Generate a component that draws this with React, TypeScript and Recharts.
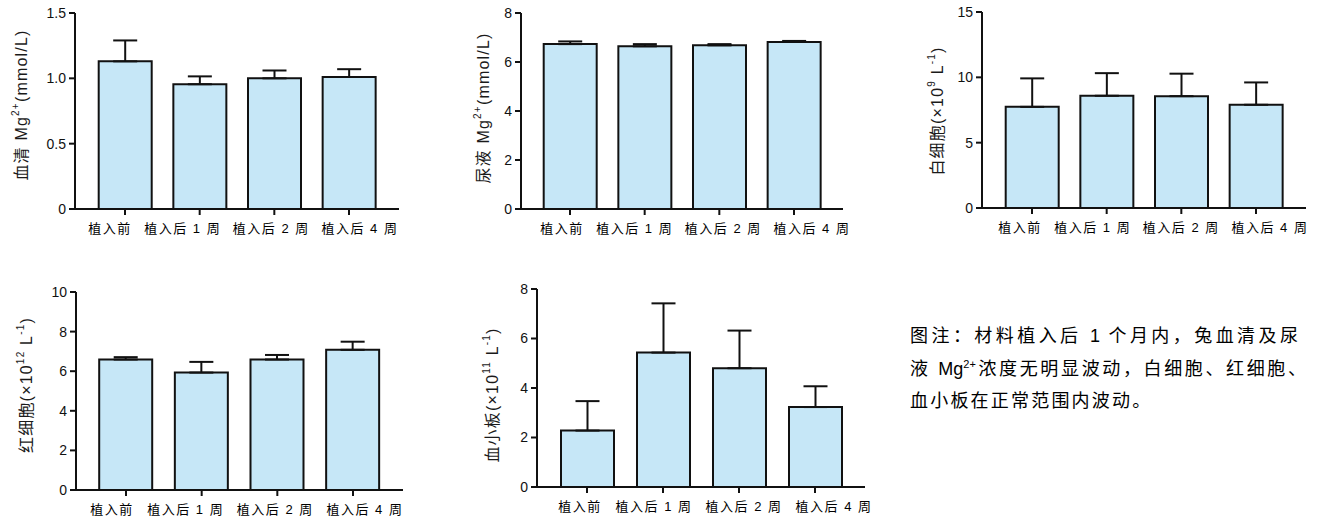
import { Bar, BarChart, ErrorBar, XAxis, YAxis } from "recharts";

const categories = ["植入前", "植入后 1 周", "植入后 2 周", "植入后 4 周"];

// 血清 Mg2+ (mmol/L)
const serumMg = [1.13, 0.955, 1.0, 1.01];
const serumMgErr = [0.16, 0.06, 0.06, 0.06];
const serumTicks = [0, 0.5, 1.0, 1.5];

// 尿液 Mg2+ (mmol/L)
const urineMg = [6.73, 6.64, 6.68, 6.82];
const urineMgErr = [0.11, 0.09, 0.05, 0.04];
const urineTicks = [0, 2, 4, 6, 8];

// 白细胞 (x10^9 /L)
const wbc = [7.74, 8.59, 8.56, 7.9];
const wbcErr = [2.18, 1.73, 1.72, 1.71];
const wbcTicks = [0, 5, 10, 15];

// 红细胞 (x10^12 /L)
const rbc = [6.59, 5.93, 6.59, 7.08];
const rbcErr = [0.12, 0.54, 0.23, 0.41];
const rbcTicks = [0, 2, 4, 6, 8, 10];

// 血小板 (x10^11 /L)
const plt = [2.28, 5.43, 4.8, 3.23];
const pltErr = [1.19, 1.99, 1.52, 0.84];
const pltTicks = [0, 2, 4, 6, 8];

const FILL = "#c6e7f7";
const INK = "#111";
const LATIN = "'Liberation Sans', Arial, 'Noto Sans CJK SC', sans-serif";

// the category labels in the original sit as one run of text, not centred on the ticks
const labelSpread = [0, -2, 12, 26];

type Part = { t: string; sup?: boolean };

const rows = (values: number[], errs: number[]) =>
  categories.map((name, i) => ({ name, value: values[i], err: [0, errs[i]] }));

function AxisTitle({ x, y, parts }: { x: number; y: number; parts: Part[] }) {
  let raised = false;
  return (
    <text
      x={x}
      y={y}
      transform={`rotate(-90 ${x} ${y})`}
      textAnchor="middle"
      dominantBaseline="central"
      fontSize={16}
      letterSpacing={1.2}
      fill="#1a1a1a"
      fontFamily={LATIN}
    >
      {parts.map((p, i) => {
        let dy = 0;
        if (p.sup && !raised) dy = -6;
        if (!p.sup && raised) dy = 6;
        raised = !!p.sup;
        return (
          <tspan key={i} dy={dy} fontSize={p.sup ? 10 : 16}>
            {p.t}
          </tspan>
        );
      })}
    </text>
  );
}

function CategoryTick(props: any) {
  const { x, y, payload, base } = props;
  const idx = payload?.index ?? props.index ?? 0;
  return (
    <text
      x={x + base + labelSpread[idx]}
      y={y}
      dy="0.71em"
      textAnchor="middle"
      fontSize={13}
      letterSpacing={1.5}
      fill="#000"
      fontFamily={LATIN}
    >
      {payload.value}
    </text>
  );
}

interface PanelProps {
  plotLeft: number;
  plotTop: number;
  plotW: number;
  plotH: number;
  pad: number;
  labelBase: number;
  ticks: number[];
  values: number[];
  errs: number[];
  title: Part[];
  titleX: number;
  titleY: number;
  fmt?: (v: number) => string;
}

function Panel(p: PanelProps) {
  const boxLeft = p.plotLeft - 75;
  const boxTop = p.plotTop - 15;
  const width = p.plotW + 95;
  const height = p.plotH + 15 + 42;
  const data = rows(p.values, p.errs);
  return (
    <div style={{ position: "absolute", left: boxLeft, top: boxTop }}>
      <BarChart
        width={width}
        height={height}
        data={data}
        margin={{ top: 15, right: 20, bottom: 0, left: 0 }}
      >
        <XAxis
          dataKey="name"
          padding={{ left: p.pad, right: p.pad }}
          axisLine={{ stroke: INK, strokeWidth: 2 }}
          tickLine={{ stroke: INK, strokeWidth: 2 }}
          tickSize={6}
          tickMargin={9}
          height={42}
          interval={0}
          tick={(tp: any) => <CategoryTick {...tp} base={p.labelBase} />}
        />
        <YAxis
          width={75}
          domain={[p.ticks[0], p.ticks[p.ticks.length - 1]]}
          ticks={p.ticks}
          interval={0}
          allowDataOverflow
          axisLine={{ stroke: INK, strokeWidth: 2 }}
          tickLine={{ stroke: INK, strokeWidth: 2 }}
          tickSize={6}
          tickMargin={3}
          tickFormatter={p.fmt ?? ((v: number) => String(v))}
          tick={{ fill: INK, fontSize: 14, fontFamily: LATIN }}
          label={{
            content: () => (
              <AxisTitle x={p.titleX - boxLeft} y={p.titleY - boxTop} parts={p.title} />
            ),
          }}
        />
        <Bar
          dataKey="value"
          fill={FILL}
          stroke={INK}
          strokeWidth={2}
          barSize={53}
          isAnimationActive={false}
        >
          <ErrorBar
            dataKey="err"
            direction="y"
            width={12}
            stroke={INK}
            strokeWidth={2}
            isAnimationActive={false}
          />
        </Bar>
      </BarChart>
    </div>
  );
}

const oneDecimal = (v: number) => (v === 0 ? "0" : v.toFixed(1));

const justified: React.CSSProperties = {
  textAlign: "justify",
  textAlignLast: "justify",
};

export default function App() {
  return (
    <div
      style={{
        position: "absolute",
        left: 0,
        top: 0,
        width: 1323,
        height: 522,
        background: "#fff",
        overflow: "hidden",
      }}
    >
      <Panel
        plotLeft={75}
        plotTop={13}
        plotW={324}
        plotH={196}
        pad={12.7}
        labelBase={-15}
        ticks={serumTicks}
        values={serumMg}
        errs={serumMgErr}
        fmt={oneDecimal}
        title={[{ t: "血清 Mg" }, { t: "2+", sup: true }, { t: "(mmol/L)" }]}
        titleX={21}
        titleY={105}
      />
      <Panel
        plotLeft={521}
        plotTop={13}
        plotW={322}
        plotH={196}
        pad={11.7}
        labelBase={-8}
        ticks={urineTicks}
        values={urineMg}
        errs={urineMgErr}
        title={[{ t: "尿液 Mg" }, { t: "2+", sup: true }, { t: "(mmol/L)" }]}
        titleX={483}
        titleY={108}
      />
      <Panel
        plotLeft={982}
        plotTop={12}
        plotW={324}
        plotH={196}
        pad={12.7}
        labelBase={-12}
        ticks={wbcTicks}
        values={wbc}
        errs={wbcErr}
        title={[{ t: "白细胞(×10" }, { t: "9", sup: true }, { t: " L" }, { t: "-1", sup: true }, { t: ")" }]}
        titleX={937}
        titleY={111}
      />
      <Panel
        plotLeft={76}
        plotTop={292}
        plotW={327}
        plotH={198}
        pad={12.2}
        labelBase={-14}
        ticks={rbcTicks}
        values={rbc}
        errs={rbcErr}
        title={[{ t: "红细胞(×10" }, { t: "12", sup: true }, { t: " L" }, { t: "-1", sup: true }, { t: ")" }]}
        titleX={26}
        titleY={385}
      />
      <Panel
        plotLeft={537}
        plotTop={289}
        plotW={328}
        plotH={198}
        pad={12}
        labelBase={-7}
        ticks={pltTicks}
        values={plt}
        errs={pltErr}
        title={[{ t: "血小板(×10" }, { t: "11", sup: true }, { t: " L" }, { t: "-1", sup: true }, { t: ")" }]}
        titleX={492}
        titleY={395}
      />
      <div
        style={{
          position: "absolute",
          left: 910,
          top: 320,
          fontSize: 18,
          lineHeight: "32.5px",
          color: "#000",
          fontFamily: "'Liberation Sans', Arial, 'Noto Sans CJK SC', sans-serif",
          whiteSpace: "nowrap",
        }}
      >
        <div style={{ ...justified, width: 388 }}>图注：材料植入后 1 个月内，兔血清及尿</div>
        <div style={{ ...justified, width: 396 }}>
          液 Mg<sup style={{ fontSize: 11, lineHeight: 0 }}>2+</sup>浓度无明显波动，白细胞、红细胞、
        </div>
        <div style={{ letterSpacing: 2.2 }}>血小板在正常范围内波动。</div>
      </div>
    </div>
  );
}
